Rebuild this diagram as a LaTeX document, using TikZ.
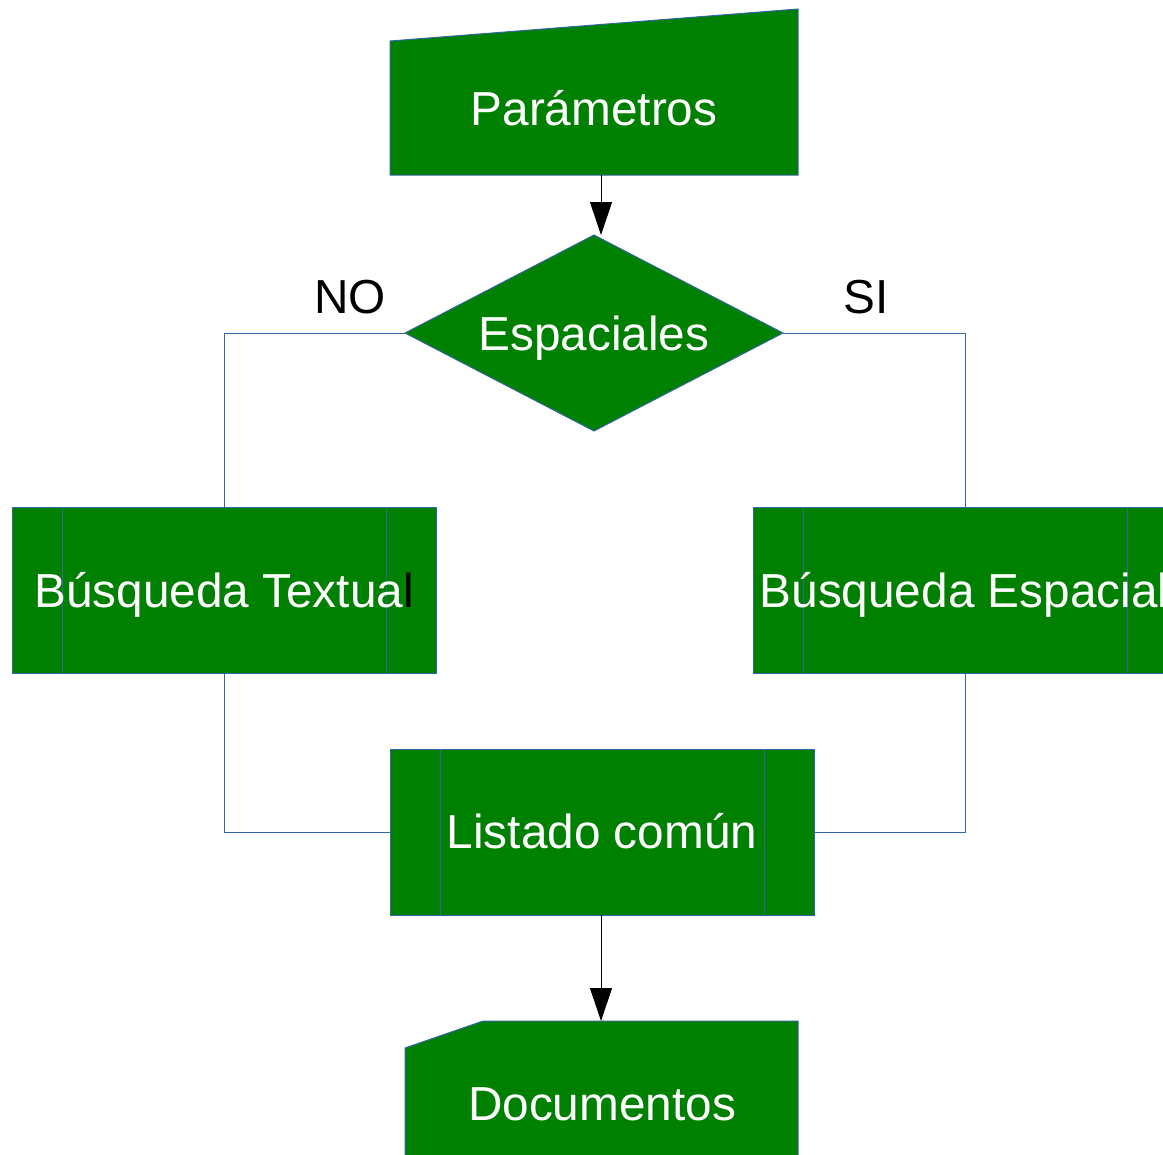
\documentclass[tikz,border=0pt]{standalone}
\usepackage{fontspec}
\setmainfont{Liberation Sans}
\usetikzlibrary{arrows.meta}
\definecolor{boxgreen}{HTML}{008000}
\definecolor{edgeblue}{HTML}{3465A4}
\begin{document}
\begin{tikzpicture}[x=0.75pt,y=-0.75pt,
  shapeline/.style={draw=edgeblue, line width=0.75pt, fill=boxgreen},
  procbox/.style={shapeline, rectangle, minimum width=318pt, minimum height=124.5pt, inner sep=0pt, outer sep=0pt},
  lbl/.style={font=\fontsize{35.8}{43}\selectfont, text=white, inner sep=0pt, anchor=base},
  side/.style={font=\fontsize{35.8}{43}\selectfont, text=black, inner sep=0pt, anchor=base},
  link/.style={draw=edgeblue, line width=0.75pt},
  flow/.style={draw=black, line width=0.75pt, -{Triangle[length=24.75pt,width=16.5pt]}}]
\useasboundingbox (0,0) rectangle (1163,1154);

% Parametros (manual input)
\draw[shapeline] (390,41) -- (798,9) -- (798,175) -- (390,175) -- cycle;
\node[lbl] (param) at (594,125) {Parámetros};
\coordinate (paramS) at (601,175);

% Espaciales (decision)
\draw[shapeline] (405,333) -- (594,235) -- (783,333) -- (594,431) -- cycle;
\node[lbl] (dec) at (594,350) {Espaciales};
\coordinate (decN) at (601,235);
\coordinate (decW) at (405,333);
\coordinate (decE) at (783,333);

\node[side] (no) at (350,313) {NO};
\node[side] (si) at (866,313) {SI};

% Busqueda Textual
\node[procbox] (tex) at (224,590) {};
\draw[link] ([xshift=37.5pt]tex.north west) -- ([xshift=37.5pt]tex.south west);
\draw[link] ([xshift=-37.5pt]tex.north east) -- ([xshift=-37.5pt]tex.south east);
\node[lbl] (texlbl) at (224,607) {Búsqueda Textua\textcolor{black}{l}};

% Busqueda Espacial
\node[procbox] (esp) at (965,590) {};
\draw[link] ([xshift=37.5pt]esp.north west) -- ([xshift=37.5pt]esp.south west);
\draw[link] ([xshift=-37.5pt]esp.north east) -- ([xshift=-37.5pt]esp.south east);
\node[lbl] (esplbl) at (964,607) {Búsqueda Espacial};

% Listado comun
\node[procbox] (lis) at (602,832) {};
\draw[link] ([xshift=37.5pt]lis.north west) -- ([xshift=37.5pt]lis.south west);
\draw[link] ([xshift=-37.5pt]lis.north east) -- ([xshift=-37.5pt]lis.south east);
\node[lbl] (lislbl) at (602,848) {Listado común};
\coordinate (lisS) at (601,915);

% Documentos (card)
\draw[shapeline] (405,1048) -- (483,1021) -- (798,1021) -- (798,1162) -- (405,1162) -- cycle;
\node[lbl] (doc) at (602,1120) {Documentos};
\coordinate (docN) at (601,1021);

% connectors
\draw[flow] (paramS) -- (decN);
\draw[link] (decW) -| (tex.north);
\draw[link] (decE) -| (esp.north);
\draw[link] (tex.south) |- (lis.west);
\draw[link] (esp.south) |- (lis.east);
\draw[flow] (lisS) -- (docN);
\end{tikzpicture}
\end{document}
